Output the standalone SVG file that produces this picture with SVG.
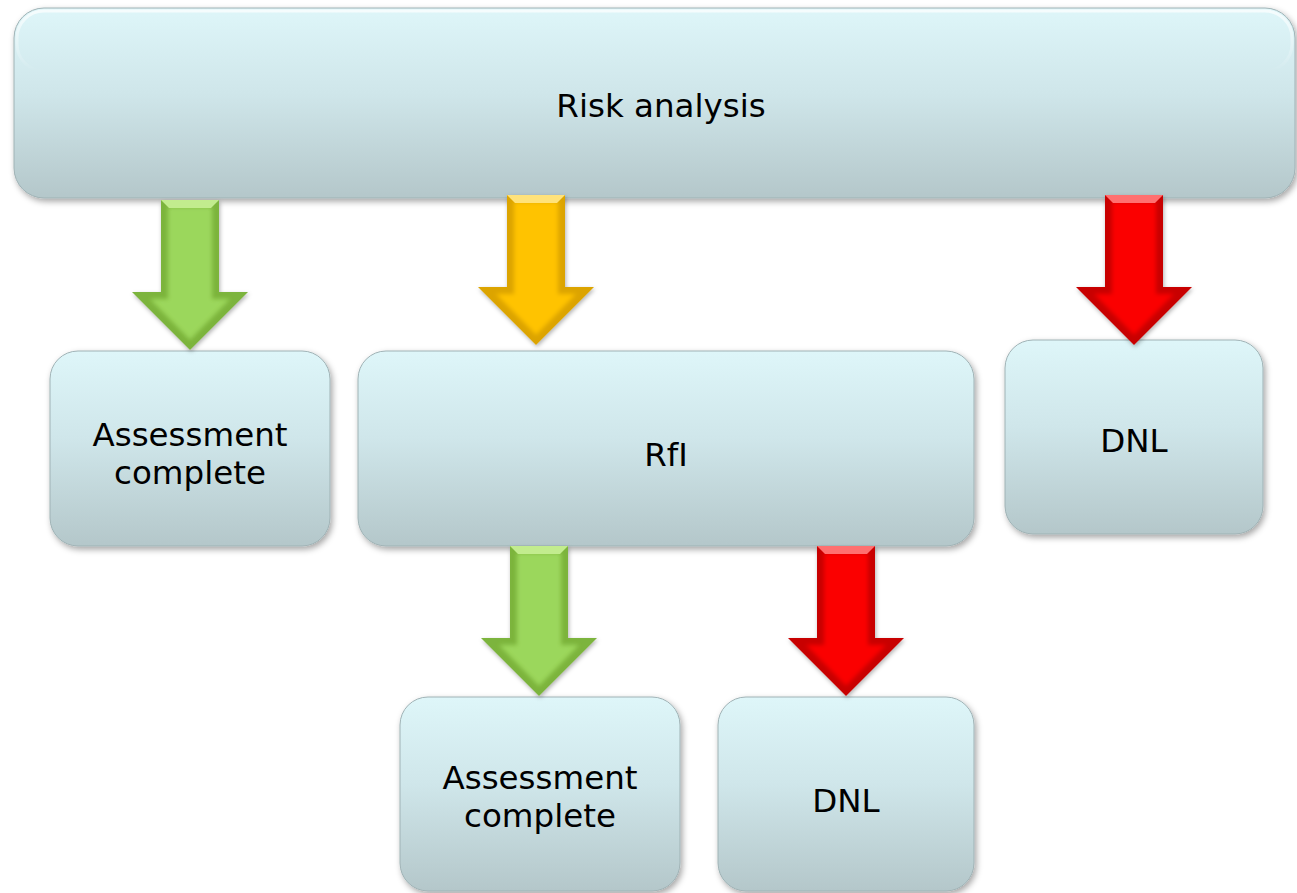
<svg xmlns="http://www.w3.org/2000/svg" xmlns:xlink="http://www.w3.org/1999/xlink" width="1297" height="893" viewBox="0 0 1297 893">
<defs>
<linearGradient id="boxg" x1="0" y1="0" x2="0" y2="1">
<stop offset="0" stop-color="#def6f9"/>
<stop offset="0.45" stop-color="#cfe6ea"/>
<stop offset="1" stop-color="#b4c7ca"/>
</linearGradient>
<linearGradient id="hl" x1="0" y1="0" x2="0" y2="1">
<stop offset="0" stop-color="#ffffff" stop-opacity="0.7"/>
<stop offset="1" stop-color="#ffffff" stop-opacity="0"/>
</linearGradient>
<filter id="sh" x="-10%" y="-10%" width="120%" height="130%">
<feDropShadow dx="2" dy="3" stdDeviation="3" flood-color="#000" flood-opacity="0.35"/>
</filter>
<filter id="ash" x="-30%" y="-10%" width="160%" height="130%">
<feDropShadow dx="1" dy="2" stdDeviation="2" flood-color="#000" flood-opacity="0.3"/>
</filter>
<filter id="soft"><feGaussianBlur stdDeviation="2"/></filter>
<path id="aout" d="M-29,0 H29 V92 H58 L0,150 L-58,92 H-29 Z"/>
<path id="ain" d="M-22,7 H22 V99 H40 L0,140 L-40,99 H-22 Z"/>
<path id="atop" d="M-29,0 H29 L21,8 H-21 Z"/>
<style>
.box{fill:url(#boxg);stroke:#9fb2b5;stroke-width:1;filter:url(#sh)}
.edge{fill:none;stroke:url(#hl);stroke-width:3}
.lbl{font-family:"DejaVu Sans","Verdana",sans-serif;font-size:32.5px;fill:#000;text-anchor:middle}
.g .o{fill:#7cb43c}.g .i{fill:#9bd75b}.g .t{fill:#c2ec8e}
.y .o{fill:#dca400}.y .i{fill:#ffc300}.y .t{fill:#ffe27a}
.r .o{fill:#c80000}.r .i{fill:#fb0606}.r .t{fill:#ff7070}
</style>
</defs>
<rect width="1297" height="893" fill="#ffffff"/>

<g id="risk-analysis">
<rect class="box" x="14" y="8" width="1281" height="190" rx="30"/>
<rect class="edge" x="17" y="11" width="1275" height="60" rx="27"/>
<text class="lbl" x="661" y="117">Risk analysis</text>
</g>

<g id="assessment-complete-1">
<rect class="box" x="50" y="351" width="280" height="195" rx="28"/>
<text class="lbl" x="190" y="446">Assessment</text>
<text class="lbl" x="190" y="484">complete</text>
</g>

<g id="rfi">
<rect class="box" x="358" y="351" width="616" height="195" rx="28"/>
<text class="lbl" x="666" y="466">RfI</text>
</g>

<g id="dnl-1">
<rect class="box" x="1005" y="340" width="258" height="194" rx="28"/>
<text class="lbl" x="1134" y="452">DNL</text>
</g>

<g id="assessment-complete-2">
<rect class="box" x="400" y="697" width="280" height="194" rx="28"/>
<text class="lbl" x="540" y="789">Assessment</text>
<text class="lbl" x="540" y="827">complete</text>
</g>

<g id="dnl-2">
<rect class="box" x="718" y="697" width="256" height="194" rx="28"/>
<text class="lbl" x="846" y="812">DNL</text>
</g>

<g id="connectors">
<g class="g" transform="translate(190,200)" filter="url(#ash)">
<use class="o" href="#aout"/><use class="i" href="#ain" filter="url(#soft)"/><use class="t" href="#atop"/>
</g>
<g class="y" transform="translate(536,195)" filter="url(#ash)">
<use class="o" href="#aout"/><use class="i" href="#ain" filter="url(#soft)"/><use class="t" href="#atop"/>
</g>
<g class="r" transform="translate(1134,195)" filter="url(#ash)">
<use class="o" href="#aout"/><use class="i" href="#ain" filter="url(#soft)"/><use class="t" href="#atop"/>
</g>
<g class="g" transform="translate(539,546)" filter="url(#ash)">
<use class="o" href="#aout"/><use class="i" href="#ain" filter="url(#soft)"/><use class="t" href="#atop"/>
</g>
<g class="r" transform="translate(846,546)" filter="url(#ash)">
<use class="o" href="#aout"/><use class="i" href="#ain" filter="url(#soft)"/><use class="t" href="#atop"/>
</g>
</g>
</svg>
